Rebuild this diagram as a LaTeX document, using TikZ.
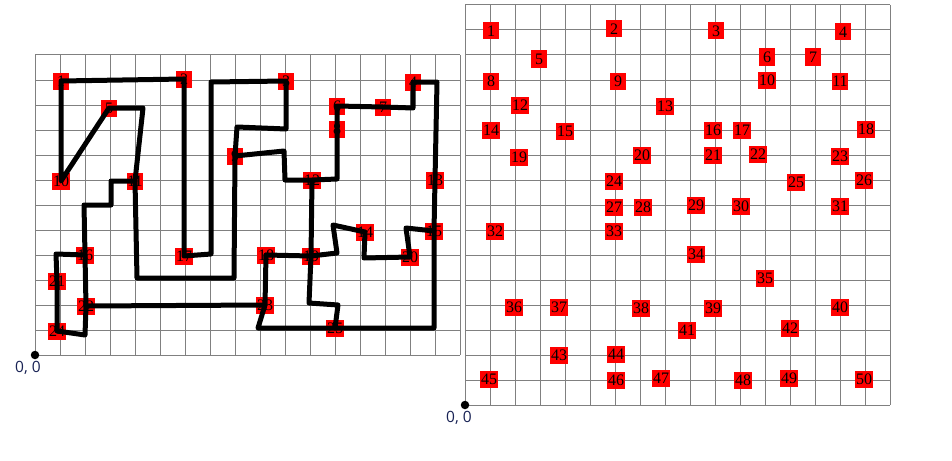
\documentclass[tikz,border=0pt]{standalone}
\usepackage{fontspec}
\setmainfont{Liberation Serif}
\newfontfamily\origfont{Open Sans}
\definecolor{gridgray}{RGB}{128,128,128}
\definecolor{boxred}{RGB}{255,0,0}
\definecolor{origblue}{RGB}{25,35,85}
\begin{document}
\begin{tikzpicture}[x=1pt,y=-1pt,
  gridline/.style={draw=gridgray,line width=1pt},
  nd/.style={fill=boxred,inner sep=0.6pt,minimum width=16pt,minimum height=17pt,font=\fontsize{16}{16}\selectfont},
  tour/.style={draw=black,line width=5pt,line cap=round,line join=round},
  origdot/.style={circle,fill=black,inner sep=0pt,minimum size=8.5pt},
  origlabel/.style={font=\origfont\fontsize{15.5}{15.5}\selectfont,text=origblue,inner sep=0pt}]
\useasboundingbox[fill=white] (0,0) rectangle (952,460);
% grids
\foreach \i in {0,...,17} {
  \draw[gridline] (35+25*\i,55) -- (35+25*\i,355);
  \draw[gridline] (465+25*\i,5) -- (465+25*\i,405);
}
\foreach \j in {0,...,12} \draw[gridline] (35,55+25*\j) -- (460,55+25*\j);
\foreach \j in {0,...,16} \draw[gridline] (465,5+25*\j) -- (890,5+25*\j);
% left nodes
\foreach \n/\x/\y in {1/61/81,2/184/79,3/286/81,4/413/82,5/109/108,6/337/106,7/383/107,8/337/129,9/235/156,10/61/181,11/135/181,12/312/180,13/435/180,14/365/232,15/434/231,16/85/255,17/184/256,18/266/255,19/311/256,20/410/257,21/57/281,22/86/306,23/265/305,24/57/331,25/335/328}
  \node[nd] (L\n) at (\x,\y) {\n};
% right nodes
\foreach \n/\x/\y in {1/491/31,2/614/29,3/716/31,4/843/32,5/539/59,6/767/57,7/813/57,8/491/81,9/618/81,10/767/80,11/840/81,12/520/105,13/665/106,14/491/130,15/565/131,16/713/130,17/742/130,18/866/129,19/519/157,20/642/155,21/713/155,22/758/154,23/840/156,24/614/181,25/796/182,26/864/180,27/614/207,28/643/207,29/696/205,30/741/206,31/840/206,32/495/231,33/614/231,34/696/254,35/765/278,36/514/307,37/559/307,38/641/308,39/713/308,40/840/307,41/687/330,42/790/328,43/559/355,44/616/354,45/489/379,46/616/380,47/661/378,48/743/380,49/789/378,50/864/379}
  \node[nd] (R\n) at (\x,\y) {\n};
% waypoints
\coordinate (a1) at (143,108);
\coordinate (a2) at (111,181);
\coordinate (a3) at (111,205);
\coordinate (a4) at (84,205);
\coordinate (a5) at (56,254);
\coordinate (a6) at (85,335);
\coordinate (a7) at (137,278);
\coordinate (a8) at (234,278);
\coordinate (a9) at (237,127);
\coordinate (a10) at (286,129);
\coordinate (a11) at (211,82);
\coordinate (a12) at (211,254);
\coordinate (a13) at (284,151);
\coordinate (a14) at (285,180);
\coordinate (a15) at (337,179);
\coordinate (a16) at (413,108);
\coordinate (a17) at (437,82);
\coordinate (a18) at (434,328);
\coordinate (a19) at (338,305);
\coordinate (a20) at (309,303);
\coordinate (a21) at (337,253);
\coordinate (a22) at (333,225);
\coordinate (a23) at (364,258);
\coordinate (a24) at (406,228);
\coordinate (a25) at (258,328);
% tour lines
\draw[tour] (L2.center) -- (L1.center) -- (L10.center) -- (L5.center) -- (a1) -- (L11.center) -- (a2) -- (a3) -- (a4) -- (L16.center) -- (a5) -- (L21.center) -- (L24.center) -- (a6) -- (L22.center) -- (L23.center);
\draw[tour] (L16.center) -- (L22.center);
\draw[tour] (L11.center) -- (a7) -- (a8) -- (L9.center) -- (a9) -- (a10) -- (L3.center) -- (a11) -- (a12) -- (L17.center) -- (L2.center);
\draw[tour] (L9.center) -- (a13) -- (a14) -- (L12.center) -- (a15) -- (L8.center) -- (L6.center) -- (L7.center) -- (a16) -- (L4.center) -- (a17) -- (L13.center) -- (L15.center) -- (a18) -- (L25.center) -- (a19) -- (a20) -- (L19.center) -- (L12.center);
\draw[tour] (L18.center) -- (L19.center) -- (a21) -- (a22) -- (L14.center) -- (a23) -- (L20.center) -- (a24) -- (L15.center);
\draw[tour] (L18.center) -- (L23.center) -- (a25) -- (L25.center);
% origins
\node[origdot] (o1) at (35,355) {};
\node[origdot] (o2) at (465,405) {};
\node[origlabel] (o1l) at (28,368) {0, 0};
\node[origlabel] (o2l) at (459,418) {0, 0};
\end{tikzpicture}
\end{document}
